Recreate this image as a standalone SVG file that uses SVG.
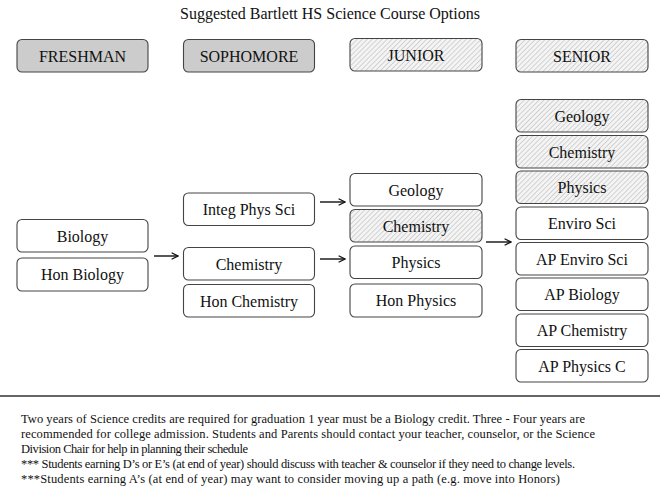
<svg xmlns="http://www.w3.org/2000/svg" width="660" height="490" viewBox="0 0 660 490">
<style>
.box{fill:#fff;stroke:#444;stroke-width:1.1}
.hdr{fill:#cccccc;stroke:#444;stroke-width:1.1}
.hat{fill:url(#hatch);stroke:#444;stroke-width:1.1}
.con{stroke:#111;stroke-width:1.4;fill:none;marker-end:url(#arr)}
</style>
<defs>
<pattern id="hatch" width="3.5" height="3.5" patternUnits="userSpaceOnUse" patternTransform="rotate(45)">
<rect width="3.5" height="3.5" fill="#f4f4f4"/>
<line x1="0" y1="0" x2="0" y2="3.5" stroke="#b0b0b0" stroke-width="1"/>
</pattern>
<marker id="arr" viewBox="0 0 10 10" refX="9" refY="5" markerWidth="8" markerHeight="8" markerUnits="userSpaceOnUse" orient="auto">
<path d="M1,1 L9,5 L1,9" fill="none" stroke="#111" stroke-width="1.6"/>
</marker>
</defs>
<rect width="660" height="490" fill="#fff"/>
<text x="330" y="19" font-family="Liberation Serif" font-size="16" text-anchor="middle" fill="#111">Suggested Bartlett HS Science Course Options</text>

<g id="hdr-freshman"><rect class="hdr" x="17" y="39.5" width="131" height="32.5" rx="5"/><text font-family="Liberation Serif" font-size="16" text-anchor="middle" fill="#111" x="82.5" y="61.5">FRESHMAN</text></g>
<g id="hdr-sophomore"><rect class="hdr" x="183.5" y="39.5" width="131" height="32.5" rx="5"/><text font-family="Liberation Serif" font-size="16" text-anchor="middle" fill="#111" x="249" y="61.5">SOPHOMORE</text></g>
<g id="hdr-junior"><rect class="hat" x="350" y="38.5" width="132" height="32.5" rx="5"/><text font-family="Liberation Serif" font-size="16" text-anchor="middle" fill="#111" x="416" y="60.5">JUNIOR</text></g>
<g id="hdr-senior"><rect class="hat" x="516" y="39.5" width="132" height="32.5" rx="5"/><text font-family="Liberation Serif" font-size="16" text-anchor="middle" fill="#111" x="582" y="61.5">SENIOR</text></g>

<g id="f-biology"><rect class="box" x="17" y="219.5" width="131" height="32.5" rx="5"/><text font-family="Liberation Serif" font-size="16" text-anchor="middle" fill="#111" x="82.5" y="241.5">Biology</text></g>
<g id="f-honbiology"><rect class="box" x="17" y="258" width="131" height="33" rx="5"/><text font-family="Liberation Serif" font-size="16" text-anchor="middle" fill="#111" x="82.5" y="280">Hon Biology</text></g>

<g id="s-integ"><rect class="box" x="183.5" y="193" width="131" height="32.5" rx="5"/><text font-family="Liberation Serif" font-size="16" text-anchor="middle" fill="#111" x="249" y="215">Integ Phys Sci</text></g>
<g id="s-chemistry"><rect class="box" x="183.5" y="247.5" width="131" height="32.5" rx="5"/><text font-family="Liberation Serif" font-size="16" text-anchor="middle" fill="#111" x="249" y="269.5">Chemistry</text></g>
<g id="s-honchem"><rect class="box" x="183.5" y="284.5" width="131" height="32.5" rx="5"/><text font-family="Liberation Serif" font-size="16" text-anchor="middle" fill="#111" x="249" y="306.5">Hon Chemistry</text></g>

<g id="j-geology"><rect class="box" x="350" y="173.5" width="132" height="32.5" rx="5"/><text font-family="Liberation Serif" font-size="16" text-anchor="middle" fill="#111" x="416" y="195.5">Geology</text></g>
<g id="j-chemistry"><rect class="hat" x="350" y="209.5" width="132" height="32.5" rx="5"/><text font-family="Liberation Serif" font-size="16" text-anchor="middle" fill="#111" x="416" y="231.5">Chemistry</text></g>
<g id="j-physics"><rect class="box" x="350" y="246" width="132" height="32.5" rx="5"/><text font-family="Liberation Serif" font-size="16" text-anchor="middle" fill="#111" x="416" y="268">Physics</text></g>
<g id="j-honphysics"><rect class="box" x="350" y="284" width="132" height="33" rx="5"/><text font-family="Liberation Serif" font-size="16" text-anchor="middle" fill="#111" x="416" y="306">Hon Physics</text></g>

<g id="sr-geology"><rect class="hat" x="516" y="99.5" width="132" height="32.5" rx="5"/><text font-family="Liberation Serif" font-size="16" text-anchor="middle" fill="#111" x="582" y="121.5">Geology</text></g>
<g id="sr-chemistry"><rect class="hat" x="516" y="135.5" width="132" height="32.5" rx="5"/><text font-family="Liberation Serif" font-size="16" text-anchor="middle" fill="#111" x="582" y="157.5">Chemistry</text></g>
<g id="sr-physics"><rect class="hat" x="516" y="171" width="132" height="32.5" rx="5"/><text font-family="Liberation Serif" font-size="16" text-anchor="middle" fill="#111" x="582" y="193">Physics</text></g>
<g id="sr-enviro"><rect class="box" x="516" y="207" width="132" height="32.5" rx="5"/><text font-family="Liberation Serif" font-size="16" text-anchor="middle" fill="#111" x="582" y="229">Enviro Sci</text></g>
<g id="sr-apenviro"><rect class="box" x="516" y="242.5" width="132" height="32.5" rx="5"/><text font-family="Liberation Serif" font-size="16" text-anchor="middle" fill="#111" x="582" y="264.5">AP Enviro Sci</text></g>
<g id="sr-apbio"><rect class="box" x="516" y="278" width="132" height="32.5" rx="5"/><text font-family="Liberation Serif" font-size="16" text-anchor="middle" fill="#111" x="582" y="300">AP Biology</text></g>
<g id="sr-apchem"><rect class="box" x="516" y="314" width="132" height="32.5" rx="5"/><text font-family="Liberation Serif" font-size="16" text-anchor="middle" fill="#111" x="582" y="336">AP Chemistry</text></g>
<g id="sr-apphys"><rect class="box" x="516" y="349.5" width="132" height="32.5" rx="5"/><text font-family="Liberation Serif" font-size="16" text-anchor="middle" fill="#111" x="582" y="371.5">AP Physics C</text></g>

<g id="connectors">
<line class="con" x1="154" y1="256" x2="178" y2="256"/>
<line class="con" x1="320" y1="202" x2="345" y2="202"/>
<line class="con" x1="320" y1="259" x2="345" y2="259"/>
<line class="con" x1="486" y1="242" x2="511" y2="242"/>
</g>

<line x1="0" y1="396" x2="660" y2="396" stroke="#333" stroke-width="1.3"/>

<g id="notes">
<text font-family="Liberation Serif" font-size="12.5" fill="#111" x="21" y="423" textLength="564">Two years of Science credits are required for graduation 1 year must be a Biology credit. Three - Four years are</text>
<text font-family="Liberation Serif" font-size="12.5" fill="#111" x="21" y="438" textLength="574">recommended for college admission. Students and Parents should contact your teacher, counselor, or the Science</text>
<text font-family="Liberation Serif" font-size="12.5" fill="#111" x="21" y="453" textLength="227">Division Chair for help in planning their schedule</text>
<text font-family="Liberation Serif" font-size="12.5" fill="#111" x="21" y="468" textLength="554">*** Students earning D’s or E’s (at end of year) should discuss with teacher &amp; counselor if they need to change levels.</text>
<text font-family="Liberation Serif" font-size="12.5" fill="#111" x="21" y="483" textLength="539">***Students earning A’s (at end of year) may want to consider moving up a path (e.g. move into Honors)</text>
</g>
</svg>
